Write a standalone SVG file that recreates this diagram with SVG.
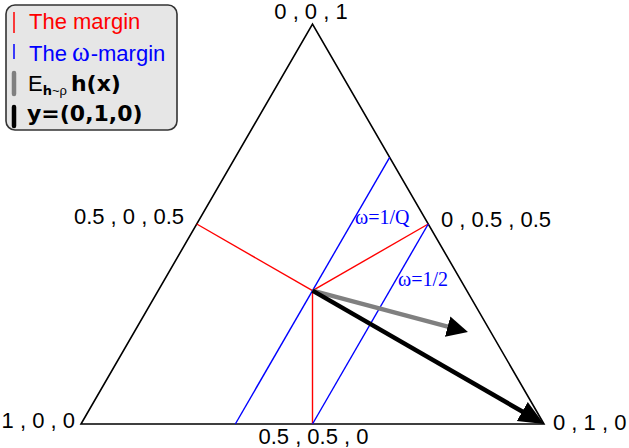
<svg xmlns="http://www.w3.org/2000/svg" width="629" height="448" viewBox="0 0 629 448">
<style>
.lbl{font-family:"Liberation Sans",Arial,sans-serif;font-size:22px;fill:#000}
.bold{font-family:"DejaVu Sans",sans-serif;font-weight:bold}
.om{font-family:"Liberation Serif","Times New Roman",serif;font-size:20px;fill:#0000ff}
.lom{font-family:"Liberation Serif","Times New Roman",serif;font-size:27px}
.red{stroke:#ff0000;stroke-width:1.4;fill:none}
.blue{stroke:#0000ff;stroke-width:1.4;fill:none}
.tri{stroke:#000;stroke-width:1.6;fill:none;stroke-linejoin:miter}
</style>
<defs>
<marker id="headK" viewBox="0 -12 28 24" markerWidth="28" markerHeight="24" refX="2" refY="0" orient="auto" markerUnits="userSpaceOnUse"><path d="M0,-11 L25,0 L0,11 z" fill="#000"/></marker>
<marker id="headG" viewBox="0 -12 28 24" markerWidth="28" markerHeight="24" refX="2" refY="0" orient="auto" markerUnits="userSpaceOnUse"><path d="M0,-10.5 L21,0 L0,10.5 z" fill="#000"/></marker>
</defs>
<g id="legend">
<rect x="6" y="5" width="171" height="125" rx="9" ry="9" fill="#e6e6e6" stroke="#333" stroke-width="1.6"/>
<line x1="14" y1="12" x2="14" y2="33" stroke="#ff0000" stroke-width="1.5"/>
<text x="29" y="29" class="lbl" style="fill:#ff0000">The margin</text>
<line x1="14" y1="44" x2="14" y2="59" stroke="#0000ff" stroke-width="1.5"/>
<text x="29" y="61" class="lbl" style="fill:#0000ff">The<tspan class="lom" dx="5">ω</tspan><tspan dx="1">-margin</tspan></text>
<line x1="14" y1="73" x2="14" y2="94" stroke="#808080" stroke-width="4.5" stroke-linecap="round"/>
<text x="28" y="91" class="lbl">E<tspan class="bold" font-size="13" dy="4">h</tspan><tspan font-size="13">~ρ</tspan><tspan class="bold" font-size="22" dy="-4" dx="4">h(x)</tspan></text>
<line x1="14" y1="107" x2="14" y2="126" stroke="#000" stroke-width="4.5" stroke-linecap="round"/>
<text x="27" y="121" class="lbl bold">y=(0,1,0)</text>
</g>
<g id="simplex">
<polygon class="tri" points="81,424 544,424 312.5,24"/>
</g>
<g id="vertex-labels">
<text class="lbl" x="311" y="19" text-anchor="middle">0 , 0 , 1</text>
<text class="lbl" x="184" y="224" text-anchor="end">0.5 , 0 , 0.5</text>
<text class="lbl" x="441" y="227">0 , 0.5 , 0.5</text>
<text class="lbl" x="75" y="428" text-anchor="end">1 , 0 , 0</text>
<text class="lbl" x="553" y="430">0 , 1 , 0</text>
<text class="lbl" x="313.5" y="444" text-anchor="middle">0.5 , 0.5 , 0</text>
</g>
<g id="connectors">
<line class="red" x1="312.5" y1="290.67" x2="196.75" y2="224"/>
<line class="red" x1="312.5" y1="290.67" x2="428.25" y2="224"/>
<line class="red" x1="312.5" y1="290.67" x2="312.5" y2="424"/>
<line class="blue" x1="235.33" y1="424" x2="389.67" y2="157.33"/>
<line class="blue" x1="312.5" y1="424" x2="428.25" y2="224"/>
<line x1="312.5" y1="290.67" x2="449.6" y2="327.1" stroke="#808080" stroke-width="4.5" marker-end="url(#headG)"/>
<line x1="312.5" y1="290.67" x2="524" y2="412.5" stroke="#000" stroke-width="4.5" marker-end="url(#headK)"/>
</g>
<g id="omega-labels">
<text class="om" x="355" y="224">ω=1/Q</text>
<text class="om" x="398" y="286">ω=1/2</text>
</g>
</svg>
